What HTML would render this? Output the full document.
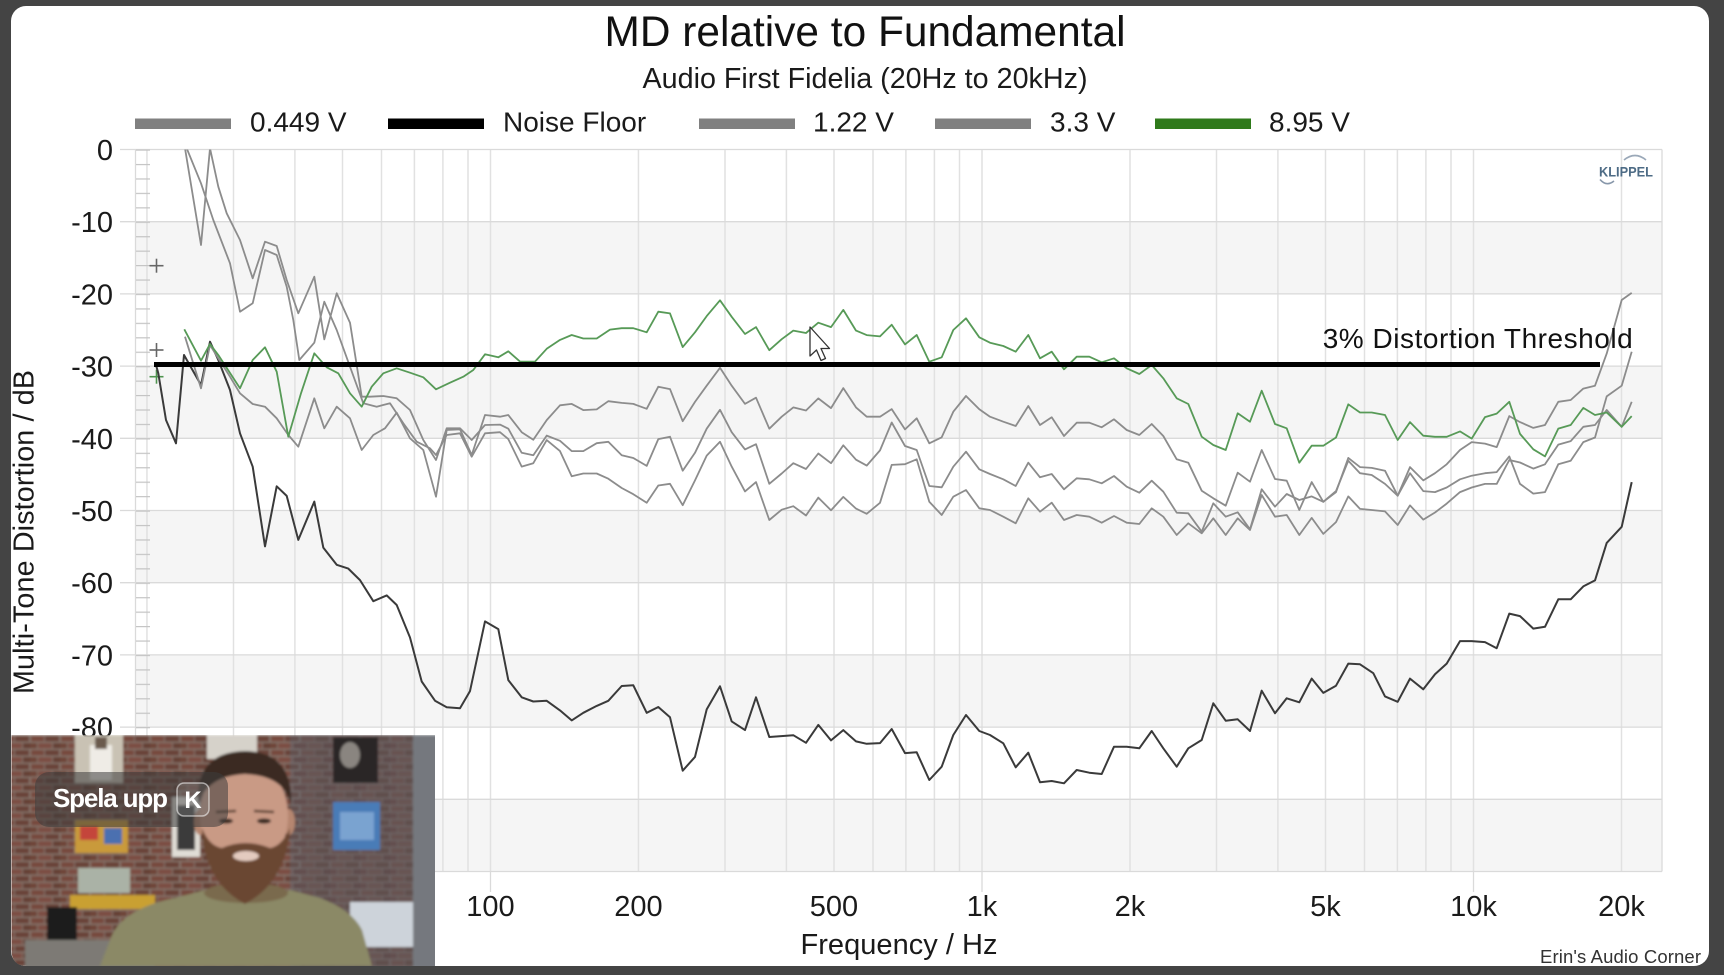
<!DOCTYPE html>
<html><head><meta charset="utf-8"><style>
html,body{margin:0;padding:0;background:#444;}
svg{display:block;}
</style></head><body>
<svg width="1724" height="975" viewBox="0 0 1724 975" xmlns="http://www.w3.org/2000/svg" font-family="'Liberation Sans', Arial, sans-serif">
<defs>
<clipPath id="plot"><rect x="135" y="149.5" width="1527" height="722"/></clipPath>
<clipPath id="cam"><path d="M11.5,735 H435 V966 H27 Q11.5,966 11.5,950 Z"/></clipPath>
<pattern id="ticks" patternUnits="userSpaceOnUse" x="136" y="149.5" width="14" height="14.44"><rect x="0" y="0" width="14" height="1.2" fill="#c4c4c4"/></pattern>
<pattern id="brick" patternUnits="userSpaceOnUse" x="0" y="735" width="30" height="14"><rect width="30" height="14" fill="#8a7a72"/><rect x="1" y="1" width="13" height="5.5" fill="#7a4a3e"/><rect x="15" y="1" width="14" height="5.5" fill="#6a4238"/><rect x="-7" y="8" width="14" height="5.5" fill="#704539"/><rect x="8" y="8" width="14" height="5.5" fill="#7e5044"/><rect x="23" y="8" width="14" height="5.5" fill="#663f36"/></pattern>
<filter id="blur"><feGaussianBlur stdDeviation="1.3"/></filter>
</defs>
<rect width="1724" height="975" fill="#444"/>
<rect x="11" y="6" width="1698" height="960" rx="15" fill="#fff"/>
<text x="865" y="46" font-size="42.4" text-anchor="middle" fill="#111" textLength="521">MD relative to Fundamental</text>
<text x="865" y="88" font-size="28.7" text-anchor="middle" fill="#1a1a1a" textLength="445">Audio First Fidelia (20Hz to 20kHz)</text>
<g font-size="28" fill="#1a1a1a">
<rect x="135" y="118.5" width="96" height="10.5" fill="#808080"/><text x="250" y="131.5">0.449 V</text>
<rect x="388" y="118.5" width="96" height="10.5" fill="#000"/><text x="503" y="131.5">Noise Floor</text>
<rect x="699" y="118.5" width="96" height="10.5" fill="#808080"/><text x="813" y="131.5">1.22 V</text>
<rect x="935" y="118.5" width="96" height="10.5" fill="#808080"/><text x="1050" y="131.5">3.3 V</text>
<rect x="1155" y="118.5" width="96" height="10.5" fill="#2f7a1b"/><text x="1269" y="131.5">8.95 V</text>
</g>
<g fill="#f5f5f5">
<rect x="135" y="221.7" width="1527" height="72.2"/>
<rect x="135" y="366.1" width="1527" height="72.2"/>
<rect x="135" y="510.5" width="1527" height="72.2"/>
<rect x="135" y="654.9" width="1527" height="72.2"/>
<rect x="135" y="799.3" width="1527" height="72.2"/>
</g>
<g stroke="#e1e1e1" stroke-width="1.5">
<line x1="146.96" y1="149.5" x2="146.96" y2="871.5"/><line x1="233.5" y1="149.5" x2="233.5" y2="871.5"/><line x1="294.9" y1="149.5" x2="294.9" y2="871.5"/><line x1="342.5" y1="149.5" x2="342.5" y2="871.5"/><line x1="381.5" y1="149.5" x2="381.5" y2="871.5"/><line x1="414.4" y1="149.5" x2="414.4" y2="871.5"/><line x1="442.9" y1="149.5" x2="442.9" y2="871.5"/><line x1="468" y1="149.5" x2="468" y2="871.5"/>
<line x1="490.5" y1="149.5" x2="490.5" y2="871.5"/><line x1="638.45" y1="149.5" x2="638.45" y2="871.5"/><line x1="725" y1="149.5" x2="725" y2="871.5"/><line x1="786.4" y1="149.5" x2="786.4" y2="871.5"/><line x1="834" y1="149.5" x2="834" y2="871.5"/><line x1="873" y1="149.5" x2="873" y2="871.5"/><line x1="905.9" y1="149.5" x2="905.9" y2="871.5"/><line x1="934.4" y1="149.5" x2="934.4" y2="871.5"/><line x1="959.5" y1="149.5" x2="959.5" y2="871.5"/>
<line x1="982" y1="149.5" x2="982" y2="871.5"/><line x1="1130" y1="149.5" x2="1130" y2="871.5"/><line x1="1216.5" y1="149.5" x2="1216.5" y2="871.5"/><line x1="1277.9" y1="149.5" x2="1277.9" y2="871.5"/><line x1="1325.5" y1="149.5" x2="1325.5" y2="871.5"/><line x1="1364.5" y1="149.5" x2="1364.5" y2="871.5"/><line x1="1397.4" y1="149.5" x2="1397.4" y2="871.5"/><line x1="1425.9" y1="149.5" x2="1425.9" y2="871.5"/><line x1="1451" y1="149.5" x2="1451" y2="871.5"/>
<line x1="1473.5" y1="149.5" x2="1473.5" y2="871.5"/><line x1="1621.5" y1="149.5" x2="1621.5" y2="871.5"/>
</g>
<g stroke="#dadada" stroke-width="1.3">
<line x1="120" y1="149.5" x2="1662" y2="149.5"/><line x1="120" y1="221.7" x2="1662" y2="221.7"/><line x1="120" y1="293.9" x2="1662" y2="293.9"/><line x1="120" y1="366.1" x2="1662" y2="366.1"/><line x1="120" y1="438.3" x2="1662" y2="438.3"/><line x1="120" y1="510.5" x2="1662" y2="510.5"/><line x1="120" y1="582.7" x2="1662" y2="582.7"/><line x1="120" y1="654.9" x2="1662" y2="654.9"/><line x1="120" y1="727.1" x2="1662" y2="727.1"/><line x1="120" y1="799.3" x2="1662" y2="799.3"/><line x1="120" y1="871.5" x2="1662" y2="871.5"/>
<line x1="135.5" y1="149.5" x2="135.5" y2="871.5"/><line x1="1662" y1="149.5" x2="1662" y2="871.5"/>
<line x1="490.5" y1="871.5" x2="490.5" y2="892"/><line x1="982" y1="871.5" x2="982" y2="892"/><line x1="1473.5" y1="871.5" x2="1473.5" y2="892"/>
</g>
<rect x="136" y="149.5" width="14" height="722" fill="url(#ticks)"/>
<g font-size="29" fill="#1a1a1a" text-anchor="end">
<text x="113" y="160">0</text><text x="113" y="232.2">-10</text><text x="113" y="304.4">-20</text><text x="113" y="376.6">-30</text><text x="113" y="448.8">-40</text><text x="113" y="521">-50</text><text x="113" y="593.2">-60</text><text x="113" y="665.4">-70</text><text x="113" y="737.6">-80</text>
</g>
<text transform="translate(33.5,532) rotate(-90)" font-size="28.7" text-anchor="middle" fill="#1a1a1a" textLength="324">Multi-Tone Distortion / dB</text>
<g font-size="29" fill="#1a1a1a" text-anchor="middle">
<text x="490.5" y="916">100</text><text x="638.5" y="916">200</text><text x="834" y="916">500</text><text x="982" y="916">1k</text><text x="1130" y="916">2k</text><text x="1325.5" y="916">5k</text><text x="1473.5" y="916">10k</text><text x="1621.5" y="916">20k</text>
</g>
<text x="899" y="954" font-size="29" text-anchor="middle" fill="#1a1a1a" textLength="197">Frequency / Hz</text>
<text x="1540" y="963" font-size="18.5" fill="#333" textLength="161">Erin's Audio Corner</text>
<g stroke="#666" stroke-width="1.6"><line x1="149.5" y1="265.7" x2="163.5" y2="265.7"/><line x1="156.5" y1="258.7" x2="156.5" y2="272.7"/><line x1="149.5" y1="350" x2="163.5" y2="350"/><line x1="156.5" y1="343" x2="156.5" y2="357"/></g>
<g stroke="#4f944f" stroke-width="1.6"><line x1="149.5" y1="376.7" x2="163.5" y2="376.7"/><line x1="156.5" y1="369.7" x2="156.5" y2="383.7"/></g>
<g clip-path="url(#plot)" fill="none" stroke-linejoin="round">
<polyline stroke="#8c8c8c" stroke-width="1.8" points="186.7,148.3 201,183.3 213.3,220 230,263.3 240,311.7 252.7,303.3 265,250 276.7,255 286.7,286.7 293.3,320 299.3,360 314.3,342.7 324.3,301.7 336.7,330 350,366.7 363.3,403.3 376.7,406.7 390,403.3 403.3,423.3 416.7,441.7 430,448.3 436,455 446.7,435 460,433.3 471.7,456.7 485,433.3 500,432.2 508.3,439.1 521.7,466.6 533.3,463.2 546.7,440.1 560,451.1 571.7,476.3 583.3,473.5 596.7,473.5 608.3,478.7 621.7,488 633.3,494.2 646.7,502.8 658.3,485.5 670,483.8 682.7,505.2 695,480.4 706.7,455.6 720,441.8 731.7,466.6 745,491.4 756,482.1 769.3,520 781.7,509.7 793.3,506.2 806,515.5 818.3,497.6 831,510.3 843.3,496.9 856,508.6 866.7,513.8 880,502.8 891.7,464.9 905,464.2 916.7,459.3 929.3,501.7 941.7,515 953.3,496.7 966,490 979.3,508.3 990,510 1003.3,516.7 1015.7,523.3 1028.3,498.3 1040,511.7 1051.7,502.7 1064,520 1076.7,515 1089.3,516.7 1101.7,522.7 1114,516 1126.7,522.7 1139.3,524 1151.7,508.3 1163.3,516.7 1176.7,535 1188.3,523.3 1201.7,533.3 1213.3,518.3 1225.7,535 1237.7,518.3 1250,530 1261.7,495 1275,516.7 1286.7,515 1299.3,535 1311.7,517.9 1323.3,533.9 1336,522.1 1348.3,496.4 1360,508.9 1371.7,510 1385,511.4 1397.7,525 1410,505.4 1423.3,519.6 1435,512.5 1446.7,503.6 1460,492.1 1471.7,487.5 1485,483.9 1496.7,483.9 1509.3,460 1520,462.5 1533.3,468.6 1545,464.3 1558.3,444.6 1570.7,441.1 1583.3,426.8 1595,425 1606.7,410 1621.7,426.8 1631.7,401.8"/>
<polyline stroke="#3a3a3a" stroke-width="2" points="156,365 158.3,373.3 166,420 176,443.3 184,355 201,385 210,341.7 218.3,360 230,390 240,433.3 252.7,466.7 265,546.4 276.7,486.3 286.7,495.9 298.3,539.9 314.3,501.6 323.3,547.6 336.7,564.8 348.3,568.6 360,580.1 373.3,601.2 386.7,595.4 396.7,605 410,637.5 421.7,681.5 435,700.7 446.7,707.2 460,708.3 470,691.1 485,621.4 498.3,629.1 508.3,680.1 521.7,697.3 533.3,701.5 546.7,700.8 560,710.4 571.7,720.4 583.3,712.8 596.7,705.9 608.3,700.8 621.7,686 633.3,685.3 646.7,712.8 658.3,707 670,717.3 682.7,770.7 695,756.9 706.7,709.4 720,686.3 731.7,721.4 745,730.1 756,697.3 769.3,737 793.3,735.2 806,742.8 818.3,724.9 831,740.4 843.3,730.1 856,741.4 866.7,743.8 880,743.1 891.7,729 905,753.1 916.7,752.3 929.3,780 941.7,766.7 953.3,735 966,715 979.3,731 990,735 1003.3,743.3 1015.7,767.3 1028.3,752.7 1040,782.3 1051.7,781 1064,783.3 1076.7,770 1089.3,772.7 1101.7,774 1114,746.7 1126.7,746.7 1139.3,748.3 1151.7,731 1163.3,748.3 1176.7,766.7 1188.3,748.3 1201.7,740 1213.3,703.3 1225.7,720.7 1237.7,719.3 1250,731 1261.7,690.7 1275,713.3 1286.7,698.3 1299.3,702.3 1311.7,678.6 1323.3,692.9 1336,685.7 1348.3,663.6 1360,664.3 1373.3,673.2 1385,696.4 1397.7,701.8 1410,678.6 1423.3,689.3 1435,674.3 1446.7,663.6 1460,641.1 1471.7,641.1 1485,642.1 1496.7,648.2 1509.3,613.6 1520,616.1 1533.3,628.6 1545,626.8 1558.3,599.3 1570.7,599.3 1583.3,586.4 1595,580.4 1606.7,542.9 1621.7,526.8 1631.7,482.1"/>
<polyline stroke="#8c8c8c" stroke-width="1.8" points="185,148.3 201,245 210,148.3 218.3,186.7 226.7,213.3 240,240 252.7,278.3 265,241.7 276.7,246 286.7,280 298.3,313.3 314.3,276.7 324.3,339.3 336.7,293.3 350,322.7 361.7,396.7 370,396.7 383.3,396 396.7,398.3 410,410 423.3,440 436,460 446.7,428.3 460,428.3 471.7,440 485,425 500,424.6 508.3,428.7 521.7,452.8 533.3,455.2 546.7,435.6 560,440.8 571.7,451.1 583.3,451.1 596.7,443.2 608.3,441.8 621.7,455.2 633.3,458 646.7,465.9 658.3,439.1 670,436.7 682.7,470.7 695,452.8 706.7,428.7 720,409.8 731.7,432.2 745,449.4 756,444.2 769.3,483.8 781.7,473.5 793.3,463.2 806,469 818.3,453.5 831,463.2 843.3,445.3 856,459.7 866.7,465.6 880,450.4 891.7,422.5 905,446 916.7,450 929.3,486 941.7,487.3 953.3,466.7 966,451.7 979.3,469.3 990,474 1003.3,479.3 1015.7,486 1028.3,462.7 1040,477.3 1051.7,474 1064,489.3 1076.7,478.3 1089.3,479.3 1101.7,483.3 1114,476 1126.7,486.7 1139.3,492.7 1151.7,480.7 1163.3,491.7 1176.7,512.7 1188.3,513.3 1201.7,531.7 1213.3,503.3 1225.7,516.7 1237.7,512.3 1250,529.3 1261.7,489.3 1275,506.7 1286.7,494 1299.3,500 1311.7,496.4 1323.3,501.8 1336,491.1 1348.3,460.7 1360,473.2 1371.7,475 1385,483.9 1397.7,495.7 1410,473.2 1423.3,491.1 1435,492.1 1446.7,487.5 1460,479.3 1471.7,475.7 1485,473.2 1496.7,472.1 1509.3,456.4 1520,483.9 1533.3,493.6 1545,492.1 1558.3,464.3 1570.7,460.7 1583.3,442.1 1595,437.5 1606.7,396.4 1621.7,385.7 1631.7,351.8"/>
<polyline stroke="#8c8c8c" stroke-width="1.8" points="185,336.7 201,388.3 210,345 218.3,358.3 230,376.7 240,393.3 252.7,404 265,406.7 276.7,418.3 288.3,435 298.3,446.7 314.3,398.3 324.3,428.3 336.7,406.7 350,418.3 361.7,450 373.3,435 385,428.3 396.7,412.7 410,438.3 423.3,450 436,496.7 446.7,430 460,429.3 471.7,455 485,415 500,416.7 508.3,415 521.7,432.2 533.3,439.8 546.7,420.1 560,405.3 571.7,403.9 583.3,410.1 596.7,409.4 608.3,401.2 621.7,402.9 633.3,403.9 646.7,408.8 658.3,386.7 670,389.1 682.7,421.2 695,401.9 706.7,385.7 720,367.8 731.7,385.7 745,403.9 756,397.7 769.3,428.7 781.7,416.7 793.3,407.4 806,410.5 818.3,398.4 831,408.1 843.3,388.1 856,407.4 866.7,416.7 880,416.7 891.7,409.1 905,429.4 916.7,418.3 929.3,443.3 941.7,437.3 953.3,411.7 966,396 979.3,409.3 990,416.7 1003.3,421.7 1015.7,426 1028.3,406 1040,425 1051.7,417.3 1064,436 1076.7,422.7 1089.3,422.7 1101.7,427.3 1114,419.3 1126.7,430 1139.3,435 1151.7,424 1163.3,436 1176.7,459.3 1188.3,462.7 1201.7,490.7 1213.3,498.3 1225.7,505.7 1237.7,472.7 1250,481.7 1261.7,450 1275,479 1286.7,480.7 1299.3,510 1311.7,482.1 1323.3,501.8 1336,492.1 1348.3,457.9 1360,467.1 1371.7,467.9 1385,470.7 1397.7,495.7 1410,467.1 1423.3,480.4 1435,473.2 1446.7,464.3 1460,450 1471.7,442.1 1485,443.6 1496.7,447.1 1509.3,416.1 1520,422.1 1533.3,427.9 1545,425 1558.3,401.8 1570.7,400 1583.3,388.6 1595,385.7 1606.7,353.6 1621.7,300 1631.7,292.9"/>
<polyline stroke="#579a57" stroke-width="1.8" points="184.3,329.3 201,360.7 210,344 218.3,355 240,388.3 252.7,360 265,347.3 276.7,371.7 288.3,436.7 301,393.3 314.3,353.3 326.7,367.3 338.3,373.3 350,393.3 361.7,406.7 371.7,386.7 383.3,373.3 396.7,368.3 410,372.7 423.3,377.3 436,389.3 450,382.7 463.3,376.7 473.3,370 485,354.3 498.3,357.3 508.3,351.3 520,361.6 535,361.6 546.7,348.8 560,339.9 571.7,335 583.3,338.5 596.7,338.5 610,329.6 621.7,328.2 633.3,328.2 646.7,332.3 658.3,311.7 670,313.4 682.7,347.1 695,332.3 706.7,316.1 720,300.3 731.7,316.8 745,334 756,327.1 769.3,350.2 781.7,339.2 793.3,330.6 806,333 818.3,322.7 831,327.1 843.3,309.9 856,330.6 866.7,335.1 880,336.4 891.7,324.7 905,344.4 916.7,335 929.3,361.7 941.7,357.3 953.3,330 966,318.3 979.3,337.3 990,342.7 1003.3,346 1015.7,351.7 1028.3,335 1040,358.3 1051.7,351.7 1064,369.3 1076.7,356.7 1089.3,356.7 1101.7,362.3 1114,358.3 1126.7,368.3 1139.3,374 1151.7,365 1163.3,378.3 1176.7,398.3 1188.3,404 1201.7,436.7 1213.3,445 1225.7,450 1237.7,413.3 1250,421.7 1261.7,390.7 1275,424 1286.7,428.3 1299.3,462.7 1311.7,445.7 1323.3,445.7 1336,437.5 1348.3,404.3 1360,412.5 1371.7,412.5 1385,415 1397.7,440 1410,422.1 1423.3,435.7 1435,436.8 1446.7,436.8 1460,431.4 1471.7,438.6 1485,417.1 1496.7,413.6 1509.3,401.8 1520,433.9 1533.3,449.3 1545,456.4 1558.3,428.6 1570.7,425 1583.3,407.9 1595,415 1606.7,412.5 1621.7,426.8 1631.7,416.1"/>
</g>
<rect x="154" y="362" width="1446" height="5" fill="#000"/>
<text x="1322.7" y="348" font-size="28" fill="#111" textLength="310">3% Distortion Threshold</text>
<text x="1599" y="176.7" font-size="14" font-weight="bold" fill="#4d6b85" textLength="54" lengthAdjust="spacingAndGlyphs">KLIPPEL</text>
<path d="M1624,160 Q1635,151 1646,160" fill="none" stroke="#9aa8b8" stroke-width="1.6"/>
<path d="M1600,179.5 Q1606.5,187 1614,181" fill="none" stroke="#8797aa" stroke-width="1.6"/>
<path d="M810,327 L810,356 L816.5,350 L821,360.5 L825.5,358.5 L821,348.5 L829.5,348.5 Z" fill="#fff" stroke="#333" stroke-width="1.3" stroke-linejoin="round"/>
<g clip-path="url(#cam)">
<g filter="url(#blur)">
<rect x="0" y="735" width="440" height="235" fill="#5c4038"/>
<rect x="0" y="735" width="300" height="235" fill="url(#brick)" opacity="0.9"/>
<rect x="290" y="735" width="150" height="235" fill="url(#brick)" opacity="0.6"/>
<rect x="290" y="735" width="150" height="235" fill="#5c6570" opacity="0.4"/>
<rect x="75" y="735" width="48" height="48" fill="#c9c2b4"/>
<rect x="90" y="745" width="22" height="35" fill="#efece6"/>
<rect x="95" y="737" width="12" height="12" fill="#6b5a4e"/>
<rect x="207" y="735" width="50" height="24" fill="#d6d2ca"/>
<rect x="333" y="737" width="45" height="46" fill="#2a2727"/>
<ellipse cx="350" cy="755" rx="10" ry="13" fill="#8a8580"/>
<rect x="333" y="802" width="47" height="48" fill="#4a7bb7"/>
<rect x="340" y="812" width="34" height="28" fill="#7aa3d0"/>
<rect x="172" y="797" width="28" height="60" fill="#e0ddd6"/>
<rect x="177" y="805" width="18" height="45" fill="#3b3b3b"/>
<rect x="75" y="820" width="53" height="33" fill="#c99a3a"/>
<rect x="80" y="826" width="18" height="14" fill="#c4443a"/>
<rect x="104" y="828" width="18" height="16" fill="#4b6fb0"/>
<rect x="78" y="868" width="52" height="25" fill="#aab2a6"/>
<rect x="70" y="895" width="85" height="14" fill="#c9a032"/>
<rect x="47" y="907" width="30" height="43" fill="#1e1e1e"/>
<rect x="25" y="940" width="130" height="30" fill="#7d7a75"/>
<rect x="350" y="902" width="63" height="45" fill="#cdd3da"/>
<rect x="413" y="735" width="25" height="235" fill="#75787e"/>
<path d="M100,966 L112,935 Q125,908 175,898 L205,890 Q245,905 290,890 L320,898 Q352,910 362,930 L372,966 Z" fill="#8b8966"/>
<ellipse cx="246" cy="893" rx="42" ry="10" fill="#7a6a4e"/>
<ellipse cx="200" cy="822" rx="6" ry="13" fill="#b5866f"/>
<ellipse cx="289" cy="822" rx="6" ry="13" fill="#b5866f"/>
<ellipse cx="244" cy="816" rx="44" ry="56" fill="#c99a85"/>
<path d="M198,806 Q194,752 245,751 Q294,752 291,806 Q286,776 245,774 Q206,776 198,806 Z" fill="#3a2b23"/>
<path d="M202,828 Q204,882 245,904 Q286,882 290,828 Q282,846 270,848 Q245,838 222,848 Q209,846 202,828 Z" fill="#6a4631"/>
<ellipse cx="246" cy="856" rx="13" ry="5" fill="#e3cbbf"/>
<ellipse cx="226" cy="821" rx="7" ry="2.6" fill="#3a2a24"/>
<ellipse cx="264" cy="821" rx="7" ry="2.6" fill="#3a2a24"/>
<path d="M216,812 L236,811 M254,811 L274,812" stroke="#5a3f30" stroke-width="2.5"/>
</g>
<rect x="35" y="772" width="193" height="55" rx="14" fill="#3c3c3c" opacity="0.55"/>
<text x="53" y="807" font-size="26" font-weight="bold" fill="#fff" textLength="115">Spela upp</text>
<rect x="177" y="783" width="32" height="33" rx="7" fill="#ffffff" fill-opacity="0.12" stroke="#ffffff" stroke-opacity="0.55" stroke-width="1.5"/>
<text x="193" y="808" font-size="24" font-weight="bold" fill="#fff" text-anchor="middle">K</text>
</g>
</svg>
</body></html>
